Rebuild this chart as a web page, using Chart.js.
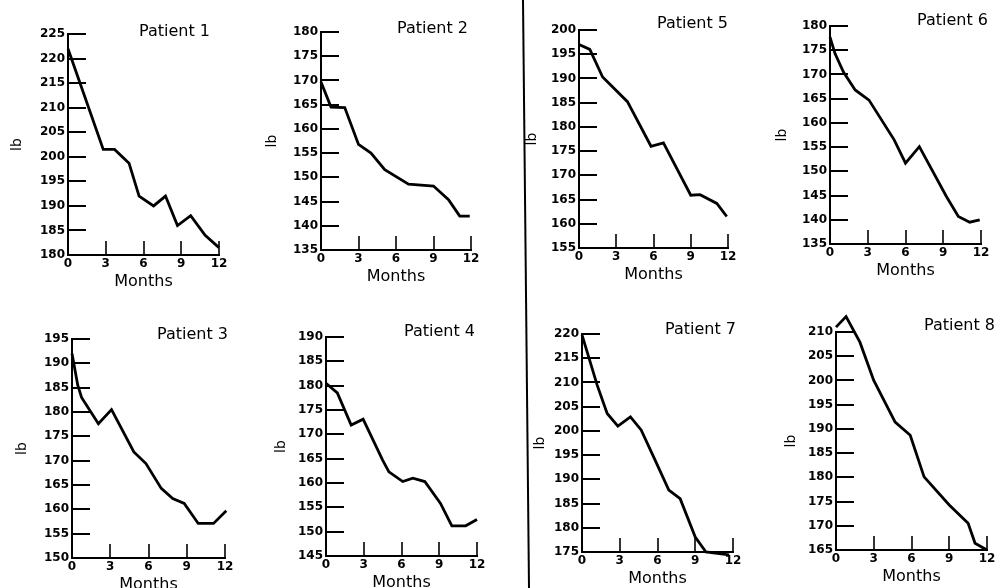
<!DOCTYPE html>
<html><head><meta charset="utf-8">
<script src="https://cdn.jsdelivr.net/npm/chart.js@4"></script>
<style>
html,body{margin:0;padding:0;background:#fff;overflow:hidden;width:997px;height:588px;}
#wrap{position:relative;width:997px;height:588px;overflow:hidden;background:#fff;}
canvas{position:absolute;}
#divider{position:absolute;left:0;top:0;}
</style></head><body>
<div id="wrap">
<svg id="divider" width="997" height="588"><line x1="523" y1="0" x2="529" y2="588" stroke="#000" stroke-width="2"/></svg>
</div>
<script>
// ---- data ----
const monthTicks = [0, 3, 6, 9, 12];
const patientNames = ['Patient 1','Patient 2','Patient 3','Patient 4','Patient 5','Patient 6','Patient 7','Patient 8'];
const axisMin = [180, 135, 150, 145, 155, 135, 175, 165];
const axisMax = [225, 180, 195, 190, 200, 180, 220, 210];

const p1Months  = [0, 2.8, 3.7, 4.85, 5.65, 6.8, 7.75, 8.7, 9.75, 10.9, 12];
const p1Weights = [222, 201.5, 201.5, 198.7, 192, 190, 192, 186, 188, 184, 181.5];
const p2Months  = [0, 0.8, 1.9, 3.0, 4.0, 5.1, 7.0, 9.0, 10.2, 11.1, 11.9];
const p2Weights = [169.7, 164.5, 164.4, 156.8, 155, 151.6, 148.6, 148.2, 145.4, 142, 142];
const p3Months  = [0, 0.45, 0.75, 2.07, 3.1, 4.85, 5.8, 7.0, 7.9, 8.8, 9.9, 11.1, 12.1];
const p3Weights = [192, 185.5, 183, 177.6, 180.5, 171.8, 169.4, 164.3, 162.2, 161.2, 157.1, 157.1, 159.7];
const p4Months  = [0, 0.9, 2.0, 2.95, 4.5, 5.0, 6.1, 6.9, 7.85, 9.1, 10.0, 11.1, 12];
const p4Weights = [180.5, 178.5, 171.9, 173.1, 164.7, 162.3, 160.3, 161, 160.3, 155.8, 151.2, 151.2, 152.5];
const p5Months  = [0, 0.87, 1.9, 3.9, 5.8, 6.8, 9.0, 9.75, 11.1, 11.9];
const p5Weights = [197, 196, 190.3, 185.2, 176, 176.7, 165.9, 166, 164.2, 161.5];
const p6Months  = [0, 0.4, 1.07, 2.0, 3.1, 5.1, 6.0, 7.1, 9.25, 10.2, 11.1, 11.9];
const p6Weights = [177.7, 174.3, 170.5, 166.8, 164.7, 156.5, 151.7, 155.1, 144.8, 140.7, 139.5, 140];
const p7Months  = [0, 1.2, 2.0, 2.85, 3.85, 4.7, 5.8, 6.9, 7.8, 9.0, 9.85, 11.7];
const p7Weights = [219.8, 209.5, 203.6, 201, 202.9, 200.2, 194, 187.8, 186, 178.1, 175, 174.4];
const p8Months  = [0, 0.8, 1.9, 3.0, 4.7, 5.9, 7.0, 9.0, 10.5, 11.05, 12];
const p8Weights = [211, 213.2, 207.9, 200, 191.4, 188.7, 180.1, 174.3, 170.5, 166.4, 165];

const allMonths  = [p1Months, p2Months, p3Months, p4Months, p5Months, p6Months, p7Months, p8Months];
const allWeights = [p1Weights, p2Weights, p3Weights, p4Weights, p5Weights, p6Weights, p7Weights, p8Weights];

// ---- layout (plot-area boxes in page pixels) ----
const boxes = [
  {l:68,  t:34,  r:219, b:255, tdx:-9, tdy:-2, lbx:17},
  {l:321, t:32,  r:471, b:250, tdx:-3, tdy:-3, lbx:19},
  {l:72,  t:339, r:225, b:558, tdx:3,  tdy:-4, lbx:18},
  {l:326, t:337, r:477, b:556, tdx:-2, tdy:-5, lbx:23},
  {l:579, t:30,  r:728, b:248, tdx:0,  tdy:-6, lbx:21},
  {l:830, t:26,  r:981, b:244, tdx:7,  tdy:-5, lbx:20},
  {l:582, t:334, r:733, b:552, tdx:3,  tdy:-4, lbx:26},
  {l:836, t:332, r:987, b:550, tdx:8,  tdy:-6, lbx:23}
];
const YW = 68, TOPPAD = 34, XH = 36, RPAD = 14;

Chart.defaults.font.family = "'DejaVu Sans', sans-serif";
Chart.defaults.color = '#000';

const panelDeco = {
  id: 'panelDeco',
  afterDatasetsDraw(chart, args, opts) {
    const {ctx, chartArea: {left, right, top, bottom}, scales: {x, y}} = chart;
    ctx.save();
    ctx.strokeStyle = '#000';
    ctx.lineWidth = 2;
    y.ticks.forEach(t => {
      const py = Math.round(y.getPixelForValue(t.value));
      if (Math.abs(py - bottom) < 2) return;
      ctx.beginPath(); ctx.moveTo(left, py); ctx.lineTo(left + 18, py); ctx.stroke();
    });
    ctx.lineWidth = 1.6;
    x.ticks.forEach(t => {
      if (t.value === 0) return;
      const px = Math.round(x.getPixelForValue(t.value));
      ctx.beginPath(); ctx.moveTo(px, bottom); ctx.lineTo(px, bottom - 14); ctx.stroke();
    });
    ctx.fillStyle = '#000';
    ctx.font = "16px 'DejaVu Sans', sans-serif";
    ctx.textAlign = 'right';
    ctx.textBaseline = 'middle';
    ctx.fillText(opts.text, right + opts.dx, top + opts.dy);
    ctx.restore();
  }
};

const wrap = document.getElementById('wrap');
boxes.forEach((bx, i) => {
  const w = YW + (bx.r - bx.l) + RPAD;
  const h = TOPPAD + (bx.b - bx.t) + XH;
  const cv = document.createElement('canvas');
  cv.width = w; cv.height = h;
  cv.style.width = w + 'px'; cv.style.height = h + 'px';
  cv.style.left = (bx.l - YW) + 'px';
  cv.style.top = (bx.t - TOPPAD) + 'px';
  wrap.appendChild(cv);
  const pts = allMonths[i].map((m, k) => ({x: m, y: allWeights[i][k]}));
  new Chart(cv, {
    type: 'line',
    data: { datasets: [{
      data: pts, borderColor: '#000', borderWidth: 2.8, pointRadius: 0,
      tension: 0, fill: false, clip: false
    }]},
    options: {
      responsive: false, animation: false, devicePixelRatio: 1,
      layout: { padding: { left: 0, top: TOPPAD, right: RPAD, bottom: 0 } },
      plugins: {
        legend: { display: false }, tooltip: { enabled: false },
        panelDeco: { text: patientNames[i], dx: bx.tdx, dy: bx.tdy }
      },
      scales: {
        x: {
          type: 'linear', min: 0, max: 12,
          afterBuildTicks: s => { s.ticks = monthTicks.map(v => ({value: v})); },
          afterFit: s => { s.height = XH; },
          grid: { display: false, drawTicks: false },
          border: { display: true, color: '#000', width: 2 },
          ticks: { font: { size: 12, weight: 'bold' }, padding: 2, autoSkip: false, maxRotation: 0 },
          title: { display: true, text: 'Months', font: { size: 16 }, padding: { top: 0, bottom: 0 } }
        },
        y: {
          type: 'linear', min: axisMin[i], max: axisMax[i],
          afterFit: s => { s.width = YW; },
          grid: { display: false, drawTicks: false },
          border: { display: true, color: '#000', width: 2 },
          ticks: { stepSize: 5, font: { size: 12, weight: 'bold' }, padding: 3, autoSkip: false },
          title: { display: true, text: 'lb', font: { size: 14 }, padding: { top: bx.lbx - 8.4, bottom: 0 } }
        }
      }
    },
    plugins: [panelDeco]
  });
});
</script>
</body></html>
